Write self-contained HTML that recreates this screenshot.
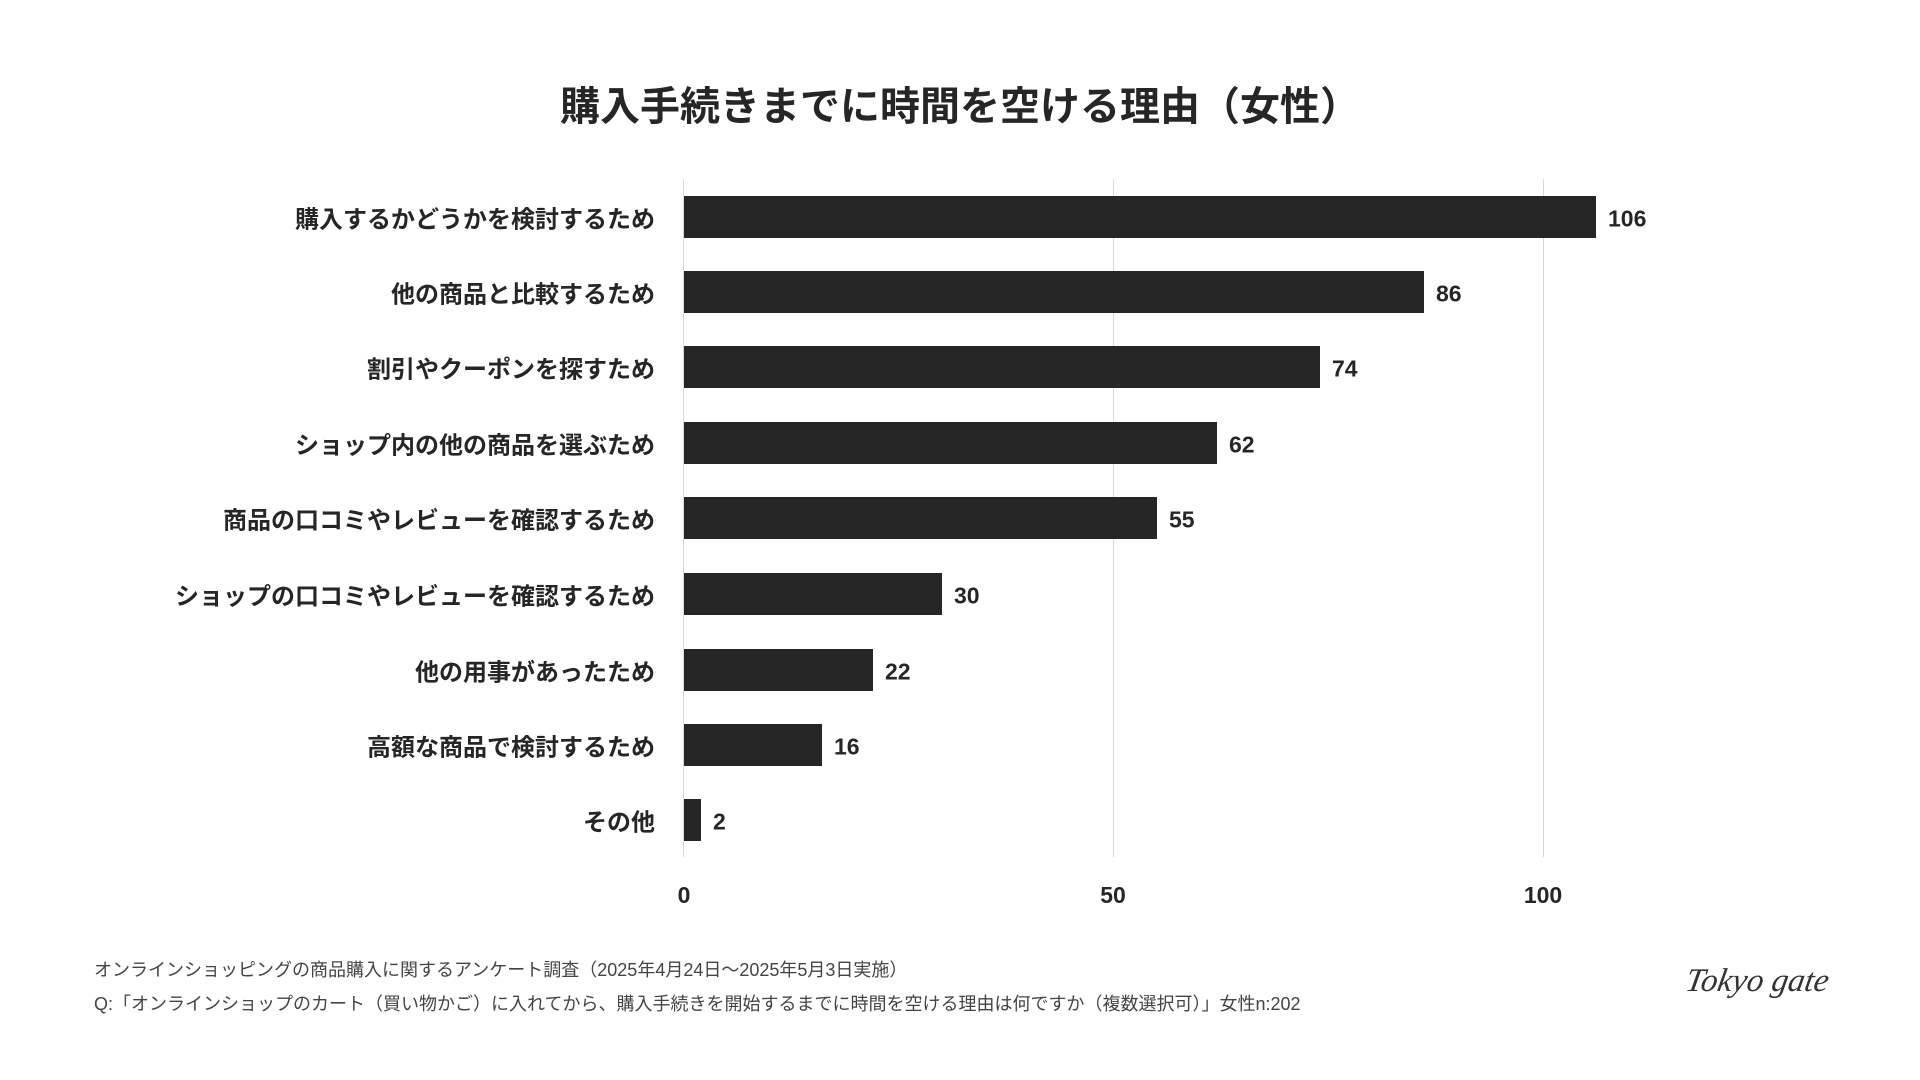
<!DOCTYPE html>
<html><head><meta charset="utf-8"><style>
body{margin:0;width:1920px;height:1080px;background:#fff;position:relative;overflow:hidden;font-family:"Liberation Sans","Noto Sans CJK JP",sans-serif;color:#262626}
.t{position:absolute;white-space:nowrap}
.title{left:0;width:1920px;text-align:center;top:74px;font-size:40px;font-weight:bold}
.lab{right:1265px;font-size:24px;font-weight:bold;transform:translateY(-50%)}
.bar{position:absolute;left:684px;height:42px;background:#262626}
.val{font-size:23px;font-weight:bold;transform:translateY(-50%)}
.grid{position:absolute;top:179px;height:678px;width:1px;background:#d9d9d9}
.tick{top:882px;font-size:23px;font-weight:bold;transform:translateX(-50%)}
.foot{left:94px;font-size:18px;color:#444}
</style></head><body>
<div class="t title">購入手続きまでに時間を空ける理由（女性）</div>
<div class="grid" style="left:683px"></div>
<div class="grid" style="left:1113px"></div>
<div class="grid" style="left:1543px"></div>

<div class="t lab" style="top:217px">購入するかどうかを検討するため</div>
<div class="bar" style="top:196px;width:912px"></div>
<div class="t val" style="top:219px;left:1608px">106</div>

<div class="t lab" style="top:292px">他の商品と比較するため</div>
<div class="bar" style="top:271px;width:740px"></div>
<div class="t val" style="top:294px;left:1436px">86</div>

<div class="t lab" style="top:367px">割引やクーポンを探すため</div>
<div class="bar" style="top:346px;width:636px"></div>
<div class="t val" style="top:369px;left:1332px">74</div>

<div class="t lab" style="top:443px">ショップ内の他の商品を選ぶため</div>
<div class="bar" style="top:422px;width:533px"></div>
<div class="t val" style="top:445px;left:1229px">62</div>

<div class="t lab" style="top:518px">商品の口コミやレビューを確認するため</div>
<div class="bar" style="top:497px;width:473px"></div>
<div class="t val" style="top:520px;left:1169px">55</div>

<div class="t lab" style="top:594px">ショップの口コミやレビューを確認するため</div>
<div class="bar" style="top:573px;width:258px"></div>
<div class="t val" style="top:596px;left:954px">30</div>

<div class="t lab" style="top:670px">他の用事があったため</div>
<div class="bar" style="top:649px;width:189px"></div>
<div class="t val" style="top:672px;left:885px">22</div>

<div class="t lab" style="top:745px">高額な商品で検討するため</div>
<div class="bar" style="top:724px;width:138px"></div>
<div class="t val" style="top:747px;left:834px">16</div>

<div class="t lab" style="top:820px">その他</div>
<div class="bar" style="top:799px;width:17px"></div>
<div class="t val" style="top:822px;left:713px">2</div>

<div class="t tick" style="left:684px">0</div>
<div class="t tick" style="left:1113px">50</div>
<div class="t tick" style="left:1543px">100</div>

<div class="t foot" style="top:956px">オンラインショッピングの商品購入に関するアンケート調査（2025年4月24日〜2025年5月3日実施）</div>
<div class="t foot" style="top:990px">Q:「オンラインショップのカート（買い物かご）に入れてから、購入手続きを開始するまでに時間を空ける理由は何ですか（複数選択可）」女性n:202</div>
<div class="t" style="left:1686px;top:963px;font-family:'Liberation Serif',serif;font-style:italic;font-size:33px;color:#333;transform:skewX(-10deg)">Tokyo gate</div>
</body></html>
